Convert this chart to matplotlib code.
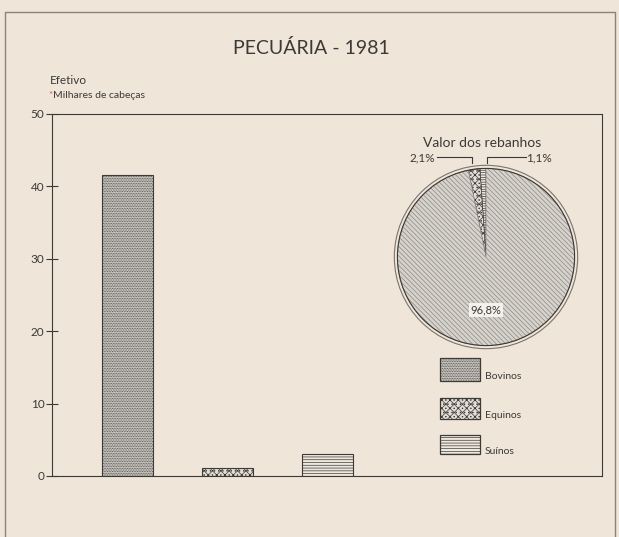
import matplotlib
matplotlib.use("Agg")
import matplotlib.pyplot as plt
from matplotlib.patches import Rectangle, Circle
import matplotlib.lines as mlines

categories = ["Bovinos", "Equinos", "Suínos"]
efetivo = [41.6, 1.1, 3.0]          # milhares de cabeças
valor_pct = [96.8, 2.1, 1.1]        # valor dos rebanhos (%)
valor_labels = ["96,8%", "2,1%", "1,1%"]
yticks = [0, 10, 20, 30, 40, 50]

BG = "#efe5d8"
INK = "#3c3a38"
plt.rcParams['font.family'] = ['Lato', 'DejaVu Sans']
plt.rcParams['hatch.linewidth'] = 0.5

W, H = 619, 537
fig = plt.figure(figsize=(W / 100, H / 100), dpi=100, facecolor=BG)

def fx(px):
    return px / W

def fy(py):
    return 1 - py / H

# outer frame
fig.add_artist(mlines.Line2D([fx(5), fx(5), fx(615), fx(615)],
                             [fy(540), fy(12), fy(12), fy(540)],
                             color="#8a847c", lw=1.0))

fig.text(fx(311), fy(48), "PECUÁRIA - 1981", ha="center", va="center",
         fontsize=14, color=INK)
fig.text(fx(50), fy(80), "Efetivo", ha="left", va="center", fontsize=8.5, color=INK)
fig.text(fx(48), fy(95), "*", ha="left", va="center", fontsize=7, color="#c0604a")
fig.text(fx(53), fy(95), "Milhares de cabeças", ha="left", va="center",
         fontsize=7.5, color=INK)

# main bar axes
ax = fig.add_axes([fx(52), fy(476), fx(602) - fx(52), fy(114) - fy(476)])
ax.set_facecolor("none")
fills = ["#d2cec8", "#e2ddd5", "#efe8de"]
hatches = ["..........", "xxxx....", "------"]
x = list(range(len(categories)))
bars = ax.bar(x, efetivo, width=0.51, color=fills, edgecolor=INK, linewidth=0.8)
for b, h in zip(bars, hatches):
    b.set_hatch(h)
ax.set_xlim(-0.755, 4.745)
ax.set_ylim(0, 50)
ax.set_yticks(yticks)
ax.set_yticklabels([str(t) for t in yticks], fontsize=8.5, color=INK)
ax.tick_params(axis="y", direction="inout", length=9, width=0.8, color=INK, pad=1)
ax.set_xticks([])
for s in ax.spines.values():
    s.set_color(INK)
    s.set_linewidth(0.8)

# legend boxes
leg_y = [(358, 381), (398, 419), (435, 454)]
for (y0, y1), cat, fc, h in zip(leg_y, categories, fills, hatches):
    r = Rectangle((fx(440), fy(y1)), fx(480) - fx(440), fy(y0) - fy(y1),
                  transform=fig.transFigure, facecolor=fc, edgecolor=INK,
                  hatch=h, linewidth=0.9)
    fig.add_artist(r)
    fig.text(fx(485), fy((y0 + y1) / 2 + 7), cat, ha="left", va="center",
             fontsize=7.5, color=INK)

# pie
pax = fig.add_axes([fx(393), fy(350), fx(579) - fx(393), fy(164) - fy(350)])
pax.set_facecolor("none")
order = [2, 1, 0]  # suínos, equinos, bovinos counterclockwise from top
pie_vals = [valor_pct[i] for i in order]
pie_fill = ["#efe8de", "#e2ddd5", "#d6d2cc"]
pie_hatch = ["-------", "xxxx....", "\\\\\\\\\\\\\\"]
pie_edge = [INK, INK, "#8d8882"]
wedges, _ = pax.pie(pie_vals, startangle=90, counterclock=True, colors=pie_fill,
                    wedgeprops=dict(linewidth=0.5))
for w, h, ec in zip(wedges, pie_hatch, pie_edge):
    w.set_hatch(h)
    w.set_edgecolor(ec)
pax.add_patch(Circle((0, 0), 1.0, fill=False, edgecolor=INK, lw=0.8))
pax.add_patch(Circle((0, 0), 1.035, fill=False, edgecolor="#7a746c", lw=0.8))
pax.set_xlim(-1.05, 1.05)
pax.set_ylim(-1.05, 1.05)
pax.set_aspect("equal")
pax.axis("off")
pax.text(0, -0.6, valor_labels[0], ha="center", va="center", fontsize=8,
         color=INK, bbox=dict(facecolor="#f4f0ea", edgecolor="none", pad=1))

fig.text(fx(482), fy(143), "Valor dos rebanhos", ha="center", va="center",
         fontsize=10, color=INK)
fig.add_artist(mlines.Line2D([fx(437), fx(472), fx(472)], [fy(157), fy(157), fy(163)],
                             color=INK, lw=0.8))
fig.add_artist(mlines.Line2D([fx(487), fx(487), fx(526)], [fy(163), fy(157), fy(157)],
                             color=INK, lw=0.8))
fig.text(fx(435), fy(158), valor_labels[1], ha="right", va="center", fontsize=8.5, color=INK)
fig.text(fx(526), fy(158), valor_labels[2], ha="left", va="center", fontsize=8.5, color=INK)

fig.savefig("out.png", dpi=100, facecolor=BG)
